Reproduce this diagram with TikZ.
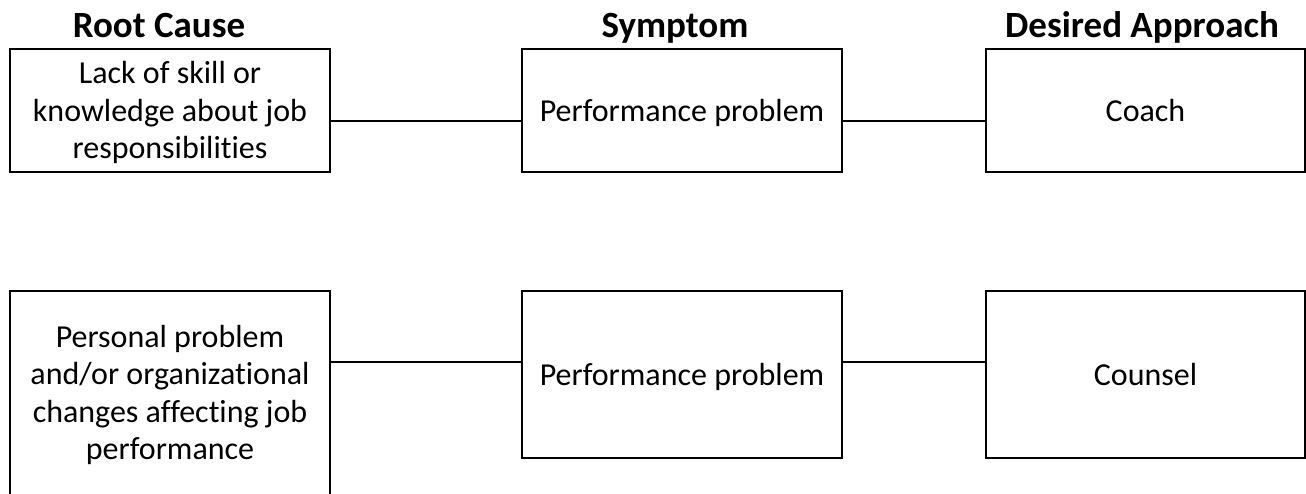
\documentclass[tikz,border=0pt]{standalone}
\usepackage{fontspec}
\setmainfont{Carlito}[Ligatures=NoCommon]
\newcommand{\onestrut}{\rule[-7pt]{0pt}{35pt}}
\begin{document}
\begin{tikzpicture}[x=1pt,y=-1pt,
  box/.style={draw=black,line width=2pt,rectangle,inner sep=0pt,align=center,
    font=\fontsize{32}{37.5}\selectfont},
  head/.style={anchor=base,inner sep=0pt,font=\fontsize{37}{44}\selectfont\bfseries},
  link/.style={line width=2pt}]
\useasboundingbox (0,0) rectangle (1306,493);
% headers
\node[head] (h1) at (159,37.5) {Root Cause};
\node[head] (h2) at (675,37.5) {Symptom};
\node[head] (h3) at (1142,37.5) {Desired Approach};
% row 1
\node[box,minimum width=320pt,minimum height=123pt] (a1) at (170,110.5)
  {\onestrut Lack of skill or\\knowledge about job\\responsibilities\onestrut};
\node[box,minimum width=320pt,minimum height=123pt] (a2) at (682,110.5)
  {\onestrut Performance problem};
\node[box,minimum width=319pt,minimum height=123pt] (a3) at (1145.5,110.5)
  {\onestrut Coach};
% row 2
\node[box,minimum width=320pt,minimum height=204pt] (b1) at (170,393)
  {\onestrut Personal problem\\and/or organizational\\changes affecting job\\performance\onestrut};
\node[box,minimum width=320pt,minimum height=167pt] (b2) at (682,374.5)
  {\onestrut Performance problem};
\node[box,minimum width=319pt,minimum height=167pt] (b3) at (1145.5,374.5)
  {\onestrut Counsel};
% connectors
\coordinate (r1) at (650,121);
\coordinate (r2) at (650,362);
\draw[link] (a1.east |- r1) -- (a2.west |- r1);
\draw[link] (a2.east |- r1) -- (a3.west |- r1);
\draw[link] (b1.east |- r2) -- (b2.west |- r2);
\draw[link] (b2.east |- r2) -- (b3.west |- r2);
\end{tikzpicture}
\end{document}
